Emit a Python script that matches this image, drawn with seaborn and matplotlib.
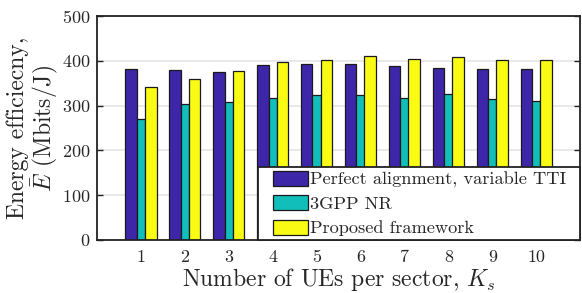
import numpy as np
import pandas as pd
import matplotlib
matplotlib.use("Agg")
import matplotlib.pyplot as plt
from matplotlib.patches import Patch, Rectangle
from matplotlib.legend_handler import HandlerPatch
import seaborn as sns

ues = [1, 2, 3, 4, 5, 6, 7, 8, 9, 10]
perfect = [382, 380, 375, 390, 392, 394, 388, 383, 381, 381]
nr3gpp = [271, 303, 309, 318, 323, 324, 316, 325, 314, 311]
proposed = [341, 360, 378, 397, 403, 410, 405, 409, 402, 402]
series = ["Perfect alignment, variable TTI", "3GPP NR", "Proposed framework"]
colors = ["#3E26A8", "#12BEB9", "#F9FB15"]

df = pd.DataFrame({
    "K": ues * 3,
    "E": perfect + nr3gpp + proposed,
    "scheme": [series[0]] * 10 + [series[1]] * 10 + [series[2]] * 10,
})

sns.set_style("white")
plt.rcParams["font.family"] = ["cmr10", "DejaVu Serif"]
plt.rcParams["mathtext.fontset"] = "cm"
plt.rcParams["axes.formatter.use_mathtext"] = True

fig = plt.figure(figsize=(5.82, 2.93), dpi=100)
ax = fig.add_axes([0.1667, 0.181, 0.83, 0.764])

sns.barplot(data=df, x="K", y="E", hue="scheme", hue_order=series,
            palette=colors, width=0.67, edgecolor="#1a1a1a", linewidth=0.9,
            saturation=1, ax=ax, native_scale=True, legend=False)

widths = [0.257, 0.19, 0.266]
for k, cont in enumerate(ax.containers):
    for bar in cont:
        c = bar.get_x() + bar.get_width() / 2
        bar.set_x(c - widths[k] / 2)
        bar.set_width(widths[k])

ax.set_xlim(0, 11)
ax.set_ylim(0, 500)
ax.set_yticks([0, 100, 200, 300, 400, 500])
ax.set_xticks(ues)
ax.set_xticklabels([str(u) for u in ues])
ax.yaxis.grid(True, color="#e5e5e5", linewidth=1.2)
ax.set_axisbelow(True)
for s in ax.spines.values():
    s.set_visible(True)
    s.set_color("#222222")
    s.set_linewidth(1.3)
ax.tick_params(axis="both", direction="in", labelsize=13, length=4, width=1, color="#222222")
ax.tick_params(axis="y", right=True, left=True, pad=5)
ax.tick_params(axis="x", bottom=False, pad=7)

ax.set_xlabel(r"Number of UEs per sector, $K_s$", fontsize=17, labelpad=1)
ax.set_ylabel("Energy efficiecny,\n" + r"$\bar{E}$ (Mbits/J)", fontsize=17, linespacing=1.02)
ax.yaxis.set_label_coords(-0.076, 0.5)

fs = 13.2
rect_w = 35 * 72 / 100  # points


def right_rect(legend, orig_handle, xdescent, ydescent, width, height, fontsize):
    return Rectangle((-xdescent + width - rect_w, -ydescent), rect_w, height)


handles = [Patch(facecolor=c, edgecolor="#1a1a1a", linewidth=0.9) for c in colors]
leg = ax.legend(handles, series, loc="lower left", bbox_to_anchor=(0.3326, 0.0, 0.6674, 0.3),
                mode="expand", fontsize=fs, frameon=True, fancybox=False,
                edgecolor="#222222", framealpha=1, handlelength=2.56, handleheight=0.87,
                borderaxespad=0, labelspacing=0.41, handletextpad=0.1, borderpad=0.19,
                handler_map={Patch: HandlerPatch(patch_func=right_rect)})
leg.get_frame().set_linewidth(1.3)

fig.savefig("out.png", dpi=100)
